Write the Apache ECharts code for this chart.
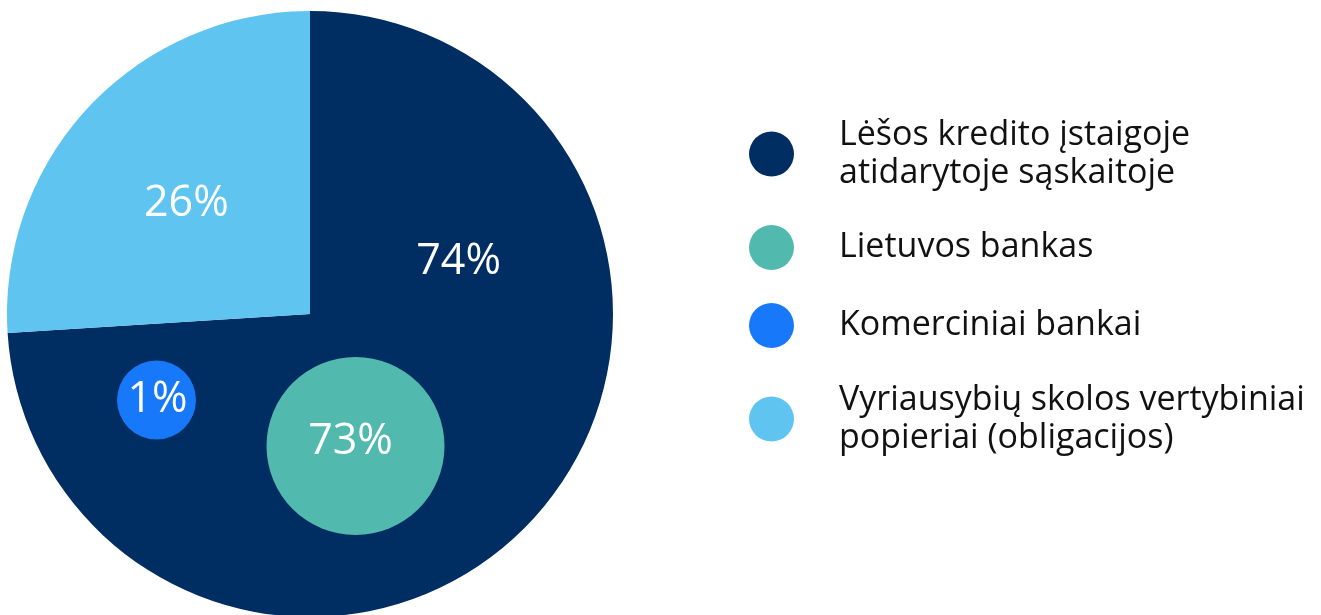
<!DOCTYPE html>
<html>
<head>
<meta charset="utf-8">
<script src="https://cdn.jsdelivr.net/npm/echarts@6/dist/echarts.min.js"></script>
<style>
  html, body { margin: 0; padding: 0; background: #fff; }
  #chart { width: 1321px; height: 615px; }
</style>
</head>
<body>
<div id="chart"></div>
<script>
// main pie: where the funds are held
const mainNames = ['Lėšos kredito įstaigoje atidarytoje sąskaitoje', 'Vyriausybių skolos vertybiniai popieriai (obligacijos)'];
const mainValues = [74, 26];
// bubbles inside the dark slice
const subNames = ['Lietuvos bankas', 'Komerciniai bankai'];
const subValues = [73, 1];

const legendOrder = [mainNames[0], subNames[0], subNames[1], mainNames[1]];
// wrapped legend texts
const legendText = {};
legendText[mainNames[0]] = 'Lėšos kredito įstaigoje\natidarytoje sąskaitoje';
legendText[mainNames[1]] = 'Vyriausybių skolos vertybiniai\npopieriai (obligacijos)';

const colors = {};
colors[mainNames[0]] = '#002D62';
colors[mainNames[1]] = '#5FC4F0';
colors[subNames[0]] = '#52B9AE';
colors[subNames[1]] = '#1778F9';

const font = '"Open Sans", "Noto Sans", sans-serif';

// label nudges (px)
const labelShift = [[36, -158], [-11, -4]];
const bubbleLabelShift = [[-5, -4], [1, 0]];
// bubble placement (px)
const bubbleCenters = [[355.5, 446], [156.5, 400]];
const bubbleRadius = [89, 39.5];

let myChart = echarts.init(document.getElementById('chart'));

const series = [{
  type: 'pie',
  center: [310, 314],
  radius: 303,
  startAngle: 90,
  clockwise: true,
  silent: true,
  emphasis: { disabled: true },
  label: {
    show: true,
    position: 'inside',
    formatter: '{c}%',
    color: '#fff',
    fontSize: 43,
    fontFamily: font
  },
  labelLine: { show: false },
  labelLayout: function (params) {
    const s = labelShift[params.dataIndex];
    return { dx: s[0], dy: s[1] };
  },
  data: mainNames.map((n, i) => ({ name: n, value: mainValues[i], itemStyle: { color: colors[n] } }))
}];

subNames.forEach((n, i) => {
  series.push({
    type: 'pie',
    z: 3,
    center: bubbleCenters[i],
    radius: bubbleRadius[i],
    silent: true,
    emphasis: { disabled: true },
    label: {
      show: true,
      position: 'center',
      formatter: '{c}%',
      color: '#fff',
      fontSize: 43,
      fontFamily: font
    },
    labelLine: { show: false },
    labelLayout: function () {
      return { dx: bubbleLabelShift[i][0], dy: bubbleLabelShift[i][1] };
    },
    data: [{ name: n, value: subValues[i], itemStyle: { color: colors[n] } }]
  });
});

myChart.setOption({
  animation: false,
  color: legendOrder.map(n => colors[n]),
  legend: {
    orient: 'vertical',
    left: 749,
    top: 116,
    padding: 0,
    icon: 'circle',
    itemWidth: 45,
    itemHeight: 45,
    itemGap: 33,
    selectedMode: false,
    data: legendOrder,
    formatter: function (name) {
      return legendText[name] || name;
    },
    textStyle: {
      color: '#111',
      fontSize: 34,
      lineHeight: 38,
      fontFamily: font,
      padding: [0, 0, 0, 40]
    }
  },
  series: series
});
</script>
</body>
</html>
